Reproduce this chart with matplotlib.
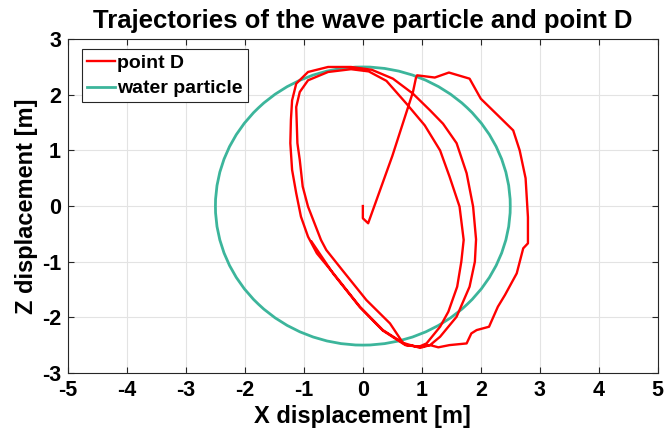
import matplotlib
matplotlib.use("Agg")
import matplotlib.pyplot as plt
from matplotlib.patches import Circle
from matplotlib.lines import Line2D

# point D trajectory (x, z) in metres
point_d_x = [
    0.00, 0.00, 0.09, 0.50, 0.85, 0.90, 0.92, 1.22, 1.46, 1.81, 2.00, 2.30,
    2.55, 2.66, 2.76, 2.80, 2.80, 2.72, 2.61, 2.41, 2.29, 2.14, 1.93, 1.84,
    1.76, 1.47, 1.28, 1.14, 0.97,
    # loop 1
    0.74, 0.34, -0.05, -0.50, -0.78, -0.93, -1.05, -1.13, -1.20, -1.23,
    -1.22, -1.20, -1.13, -0.93, -0.59, -0.20, 0.15, 0.51, 0.85, 1.14, 1.36,
    1.59, 1.76, 1.87, 1.92, 1.90, 1.81, 1.59, 1.31, 1.14, 0.97,
    # loop 2
    0.68, 0.46, 0.06, -0.35, -0.62, -0.71, -0.82, -0.93, -1.02, -1.07,
    -1.11, -1.13, -1.07, -0.93, -0.59, -0.20, 0.10, 0.40, 0.74, 1.05, 1.31,
    1.47, 1.64, 1.71, 1.67, 1.60, 1.45, 1.31, 1.08, 0.95,
    # loop 3
    0.72, 0.34, -0.05, -0.50, -0.87,
]
point_d_z = [
    0.00, -0.22, -0.31, 0.90, 2.05, 2.30, 2.35, 2.31, 2.40, 2.29, 1.93, 1.62,
    1.36, 1.00, 0.50, -0.20, -0.67, -0.76, -1.21, -1.60, -1.81, -2.17, -2.23, -2.29,
    -2.47, -2.50, -2.54, -2.50, -2.53,
    # loop 1
    -2.50, -2.23, -1.81, -1.21, -0.85, -0.55, -0.19, 0.23, 0.65, 1.13,
    1.55, 1.90, 2.20, 2.41, 2.50, 2.50, 2.45, 2.29, 2.02, 1.72, 1.48,
    1.13, 0.59, -0.01, -0.60, -1.00, -1.45, -1.99, -2.35, -2.50, -2.55,
    # loop 2
    -2.46, -2.11, -1.69, -1.15, -0.79, -0.61, -0.31, -0.01, 0.35, 0.83,
    1.13, 1.78, 2.05, 2.26, 2.41, 2.46, 2.42, 2.25, 1.84, 1.45, 1.00,
    0.53, -0.01, -0.61, -1.00, -1.45, -1.90, -2.17, -2.47, -2.53,
    # loop 3
    -2.50, -2.24, -1.82, -1.22, -0.64,
]

# water particle orbit: circle of radius equal to the wave amplitude
orbit_center = (0.0, 0.0)
orbit_radius = 2.5

x_ticks = [-5, -4, -3, -2, -1, 0, 1, 2, 3, 4, 5]
y_ticks = [-3, -2, -1, 0, 1, 2, 3]

red = "#ff0000"
green = "#3cb59b"

plt.rcParams.update({
    "font.family": ["Liberation Sans", "DejaVu Sans"],
    "font.weight": "bold",
    "axes.unicode_minus": False,
})

fig = plt.figure(figsize=(6.67, 4.45), dpi=100)
ax = fig.add_axes([0.102, 0.162, 0.884, 0.750])

ax.plot(point_d_x, point_d_z, color=red, linewidth=1.7, solid_joinstyle="round",
        zorder=3)
ax.add_patch(Circle(orbit_center, orbit_radius, fill=False, edgecolor=green,
                    linewidth=2.0, zorder=2))

ax.set_xlim(-5, 5)
ax.set_ylim(-3, 3)
ax.set_xticks(x_ticks)
ax.set_yticks(y_ticks)
ax.tick_params(direction="in", length=4, width=0.8, labelsize=15.5, colors="#262626",
               labelcolor="black", pad=5, top=True, right=True)
for lbl in ax.get_xticklabels() + ax.get_yticklabels():
    lbl.set_fontweight("bold")

ax.grid(True, color="#e3e3e3", linewidth=0.8)
ax.set_axisbelow(True)
for spine in ax.spines.values():
    spine.set_color("#262626")
    spine.set_linewidth(0.8)

ax.set_title("Trajectories of the wave particle and point D", fontsize=18.5,
             fontweight="bold", pad=8)
ax.set_xlabel("X displacement [m]", fontsize=17, fontweight="bold", labelpad=3)
ax.set_ylabel("Z displacement [m]", fontsize=17, fontweight="bold", labelpad=3)

handles = [Line2D([], [], color=red, linewidth=1.7),
           Line2D([], [], color=green, linewidth=2.0)]
leg = ax.legend(handles, ["point D", "water particle"], loc="upper left",
                prop={"size": 14, "weight": "bold"}, fancybox=False,
                edgecolor="#262626", framealpha=1.0, handlelength=1.45,
                handletextpad=0.1, borderpad=0.25, borderaxespad=0.0,
                labelspacing=0.42, bbox_to_anchor=(0.024, 0.970))
leg.get_frame().set_linewidth(0.8)

fig.savefig("out.png", dpi=100, facecolor="white")
